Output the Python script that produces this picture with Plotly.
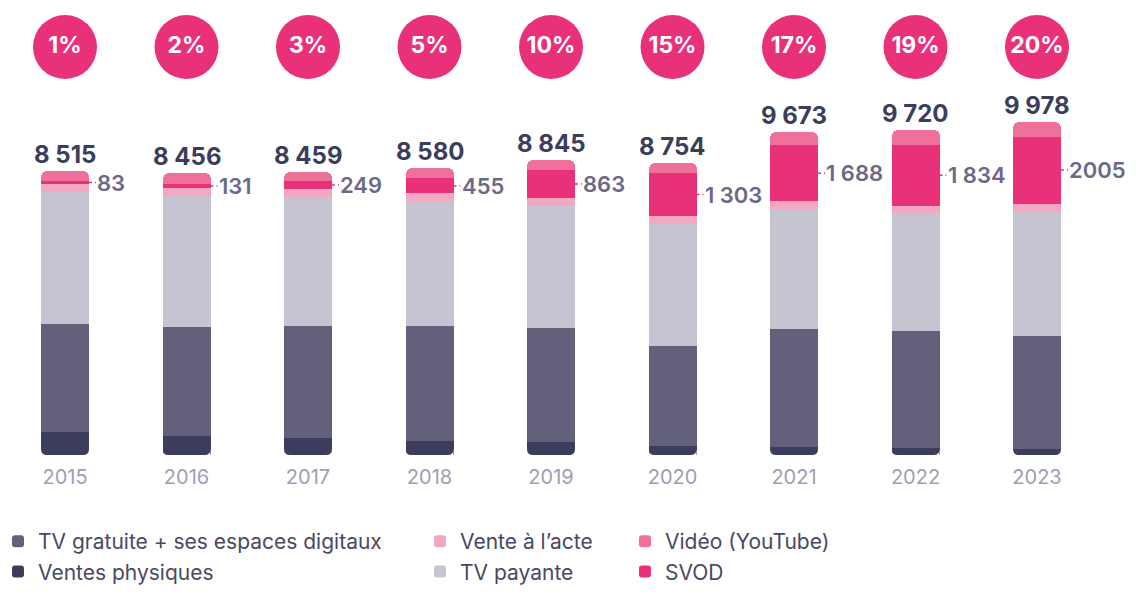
import plotly.graph_objects as go

years = ["2015", "2016", "2017", "2018", "2019", "2020", "2021", "2022", "2023"]
totals = [8515, 8456, 8459, 8580, 8845, 8754, 9673, 9720, 9978]
total_labels = ["8 515", "8 456", "8 459", "8 580", "8 845", "8 754", "9 673", "9 720", "9 978"]
ventes_physiques = [700, 570, 520, 430, 400, 280, 250, 220, 190]
tv_gratuite = [3225, 3270, 3350, 3440, 3410, 2975, 3525, 3495, 3385]
tv_payante = [3960, 3910, 3850, 3730, 3640, 3650, 3585, 3525, 3725]
vente_acte = [230, 240, 240, 230, 230, 240, 230, 220, 228]
svod = [83, 131, 249, 455, 863, 1303, 1688, 1834, 2005]
svod_labels = ["83", "131", "249", "455", "863", "1 303", "1 688", "1 834", "2005"]
youtube = [t - a - b - c - d - e for t, a, b, c, d, e in
           zip(totals, ventes_physiques, tv_gratuite, tv_payante, vente_acte, svod)]
svod_share = ["1%", "2%", "3%", "5%", "10%", "15%", "17%", "19%", "20%"]

C_VP = "#3c3d5c"
C_TG = "#63607c"
C_TP = "#c6c4d0"
C_VA = "#f3a8c2"
C_SVOD = "#e9317a"
C_YT = "#ef7199"

FONT = "Inter, Roboto, sans-serif"
W, H = 1136, 601
OFF = 8                      # page body margin
BASE_PX = 455 - OFF          # baseline in figure pixels
PX_PER_UNIT = 0.0334
YMAX = BASE_PX / PX_PER_UNIT
CIRCLE_Y = (BASE_PX - (47 - OFF)) / PX_PER_UNIT
BAR_W = 0.395
STEP_PX = 121.5
L_M, R_M = 0, 42
PLOT_W = W - L_M - R_M
X0 = -(65 - OFF - L_M) / STEP_PX
X1 = X0 + PLOT_W / STEP_PX
RAD = 6

x = list(range(len(years)))

fig = go.Figure()
series = [
    ("Ventes physiques", ventes_physiques, C_VP, "legend"),
    ("TV gratuite + ses espaces digitaux", tv_gratuite, C_TG, "legend"),
    ("TV payante", tv_payante, C_TP, "legend2"),
    ("Vente à l\u2019acte", vente_acte, C_VA, "legend2"),
    ("SVOD", svod, C_SVOD, "legend3"),
    ("Vidéo (YouTube)", youtube, C_YT, "legend3"),
]
for name, vals, col, lg in series:
    fig.add_trace(go.Bar(
        x=x, y=vals, name=name, width=BAR_W,
        marker=dict(color=col, line=dict(width=0)),
        legend=lg, hoverinfo="skip",
    ))

# percentage circles
fig.add_trace(go.Scatter(
    x=x, y=[CIRCLE_Y] * len(x), mode="markers+text",
    marker=dict(size=64, color=C_SVOD, line=dict(width=0)),
    text=svod_share, textposition="middle center",
    textfont=dict(family=FONT, size=23, color="white", weight=700),
    showlegend=False, hoverinfo="skip", cliponaxis=False,
))

annotations = []
shapes = []
for i in x:
    annotations.append(dict(
        x=i, y=totals[i], text=total_labels[i], showarrow=False,
        xanchor="center", yanchor="bottom", yshift=0,
        font=dict(family=FONT, size=24, color="#3b3d5c", weight=700),
    ))
    base = ventes_physiques[i] + tv_gratuite[i] + tv_payante[i] + vente_acte[i]
    mid = base + svod[i] / 2
    annotations.append(dict(
        x=i + BAR_W / 2, y=mid, text=svod_labels[i], showarrow=False,
        xanchor="left", yanchor="middle", xshift=6,
        font=dict(family=FONT, size=22, color="#6b6987", weight=600),
    ))
    shapes.append(dict(
        type="line", xref="x", yref="y",
        x0=i + BAR_W / 2, x1=i + BAR_W / 2 + 7 / STEP_PX, y0=mid, y1=mid,
        line=dict(color=C_SVOD, width=1.5, dash="dot"),
    ))
    # rounded bottom corners (white masks)
    for side, sgn in ((-1, 1), (1, -1)):
        shapes.append(dict(
            type="path", xref="x", yref="y",
            xsizemode="pixel", ysizemode="pixel",
            xanchor=i + side * BAR_W / 2, yanchor=0,
            path=f"M0,0 L0,{RAD} Q0,0 {sgn * RAD},0 Z",
            fillcolor="white", line=dict(width=0), layer="above",
        ))

legend_common = dict(
    orientation="v", xref="paper", yref="paper", xanchor="left",
    yanchor="top", y=-(513 - BASE_PX) / BASE_PX, traceorder="reversed",
    font=dict(family=FONT, size=21, color="#4a4863"),
    bgcolor="rgba(0,0,0,0)", itemclick=False, itemdoubleclick=False,
    tracegroupgap=0,
)

fig.update_layout(
    width=W, height=H,
    margin=dict(l=L_M, r=R_M, t=0, b=H - BASE_PX, pad=0, autoexpand=False),
    paper_bgcolor="white", plot_bgcolor="white",
    barmode="stack", bargap=0, barcornerradius=RAD,
    xaxis=dict(
        tickmode="array", tickvals=x, ticktext=years,
        range=[X0, X1], showgrid=False, zeroline=False,
        showline=False, ticks="", ticklabelstandoff=8,
        tickfont=dict(family=FONT, size=20, color="#a09db5"),
        fixedrange=True,
    ),
    yaxis=dict(range=[0, YMAX], visible=False, fixedrange=True),
    annotations=annotations, shapes=shapes,
    legend=dict(legend_common, x=(-10 - L_M) / PLOT_W),
    legend2=dict(legend_common, x=(412 - L_M) / PLOT_W),
    legend3=dict(legend_common, x=(617 - L_M) / PLOT_W),
    showlegend=True,
)

fig.write_html("out.html")
